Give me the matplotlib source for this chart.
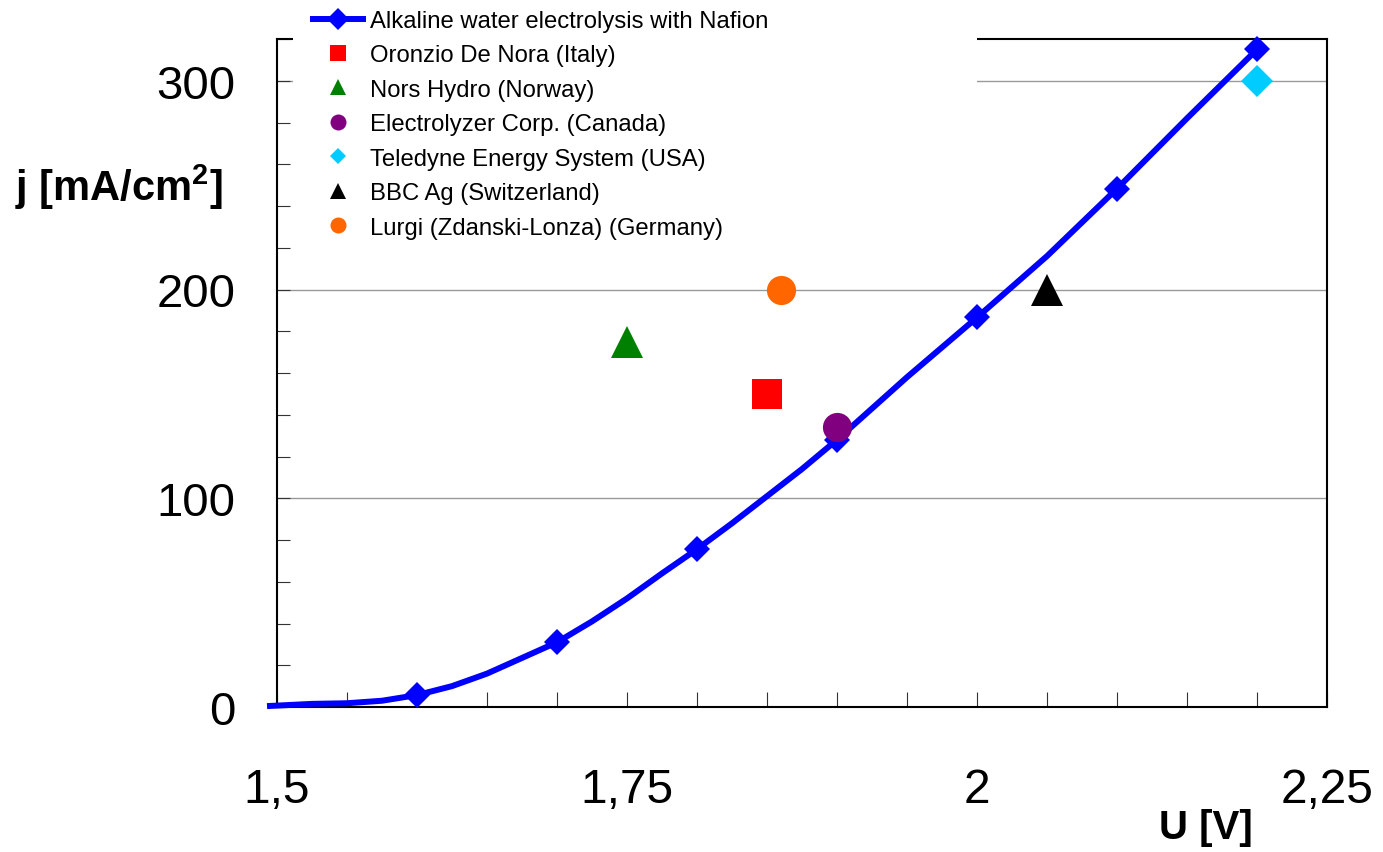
import matplotlib
matplotlib.use('Agg')
import matplotlib.pyplot as plt
from matplotlib.patches import Rectangle
from matplotlib.ticker import MultipleLocator, FixedLocator
import numpy as np

plt.rcParams['mathtext.fontset'] = 'custom'
plt.rcParams['mathtext.rm'] = 'Liberation Sans'
plt.rcParams['mathtext.bf'] = 'Liberation Sans:bold'

# Alkaline water electrolysis with Nafion (curve)
u_curve = [1.495, 1.525, 1.55, 1.575, 1.6, 1.625, 1.65, 1.675, 1.7, 1.725,
           1.75, 1.775, 1.8, 1.825, 1.85, 1.875, 1.9, 1.95, 2.0, 2.05,
           2.1, 2.15, 2.2]
j_curve = [0.5, 1.5, 1.8, 3.0, 5.7, 10, 16, 23.5, 31, 41,
           52, 64, 75.6, 88, 101, 114, 128, 158, 186.6, 216,
           248.3, 282, 315]
u_marked = [1.6, 1.7, 1.8, 1.9, 2.0, 2.1, 2.2]

# commercial electrolysers
names = ['Oronzio De Nora (Italy)', 'Nors Hydro (Norway)',
         'Electrolyzer Corp. (Canada)', 'Teledyne Energy System (USA)',
         'BBC Ag (Switzerland)', 'Lurgi (Zdanski-Lonza) (Germany)']
u_points = [1.85, 1.75, 1.9, 2.2, 2.05, 1.86]
j_points = [150, 175, 134, 300, 200, 200]

x_ticks = [1.5, 1.75, 2.0, 2.25]
x_labels = ['1,5', '1,75', '2', '2,25']
y_ticks = [0, 100, 200, 300]

# styles
markers = ['s', '^', 'o', 'D', '^', 'o']
colors = ['#FF0000', '#008000', '#800080', '#00CCFF', '#000000', '#FF6600']
sizes = [21, 23, 21, 15.8, 23, 21]
leg_sizes = [11.5, 12.2, 11.5, 8.6, 12.2, 11.5]
BLUE = '#0000FF'
SANS = ['Liberation Sans', 'DejaVu Sans']

W, H = 1383, 853
fig = plt.figure(figsize=(W / 100, H / 100), dpi=100, facecolor='white')
ax = fig.add_axes([277 / W, 1 - 708 / H, (1327 - 277) / W, (708 - 40) / H])

idx = [int(np.argmin(np.abs(np.array(u_curve) - u))) for u in u_marked]
line, = ax.plot(u_curve, j_curve, color=BLUE, lw=4.3, marker='D', ms=13.7,
                markevery=idx, mec=BLUE, mew=0, clip_on=False, zorder=3,
                label='Alkaline water electrolysis with Nafion')

pts = []
for u, j, m, c, s, n in zip(u_points, j_points, markers, colors, sizes, names):
    p, = ax.plot([u], [j], ls='none', marker=m, ms=s, color=c, mew=0,
                 zorder=4, label=n)
    pts.append(p)

ax.set_xlim(1.5, 2.25)
ax.set_ylim(0, 320)

ax.xaxis.set_major_locator(FixedLocator(x_ticks))
ax.set_xticklabels(x_labels)
ax.xaxis.set_minor_locator(MultipleLocator(0.05))
ax.yaxis.set_major_locator(FixedLocator(y_ticks))
ax.yaxis.set_minor_locator(MultipleLocator(20))

ax.tick_params(axis='x', which='both', direction='in', length=11, width=0.8,
               color='#333333', top=False)
ax.tick_params(axis='x', which='major', pad=43, labelsize=34.5)
ax.tick_params(axis='y', which='both', direction='in', length=9.5, width=0.8,
               color='#333333', right=False)
ax.tick_params(axis='y', which='major', pad=30, labelsize=34)
for lab in ax.get_xticklabels() + ax.get_yticklabels():
    lab.set_family(SANS)

ax.grid(axis='y', which='major', color='#999999', lw=1.0)
ax.set_axisbelow(True)
for sp in ax.spines.values():
    sp.set_linewidth(1.5)
    sp.set_color('black')

fig.text(15 / W, 1 - 187 / H, r'j [mA/cm$^\mathbf{2}$]', fontsize=30,
         fontweight='bold', family=SANS, ha='left', va='center')
fig.text(1206 / W, 1 - 828 / H, 'U [V]', fontsize=29, fontweight='bold',
         family=SANS, ha='center', va='center')

# white box behind the legend, hiding top spine and grid
fig.patches.append(Rectangle((293 / W, 1 - 245 / H), (977 - 293) / W, 245 / H,
                             transform=fig.transFigure, facecolor='white',
                             edgecolor='none', zorder=2))

leg = fig.legend([line] + pts, [line.get_label()] + names,
                 loc='upper left', bbox_to_anchor=(313 / W, 1 - 11 / H),
                 frameon=False, borderpad=0, borderaxespad=0,
                 handlelength=2.1, handletextpad=0.3, labelspacing=0.52,
                 prop={'family': SANS, 'size': 17.2})
leg.set_zorder(5)
hs = leg.legend_handles
hs[0].set_markersize(11.7)
for h, s in zip(hs[1:], leg_sizes):
    h.set_markersize(s)

fig.savefig('out.png', dpi=100, facecolor='white')
